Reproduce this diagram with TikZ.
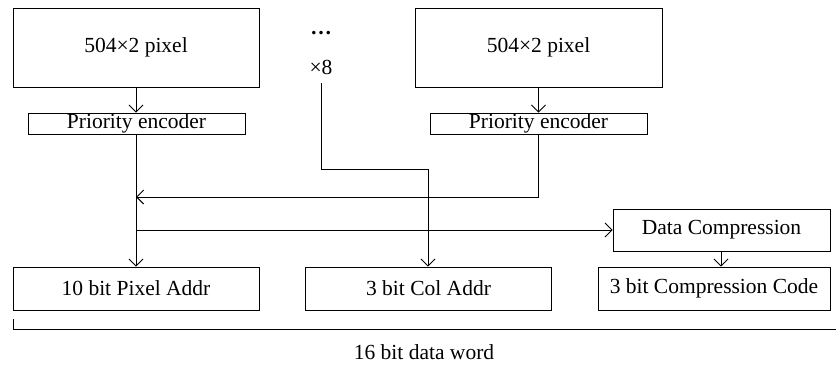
\documentclass[tikz,border=0pt]{standalone}
\usepackage{fontspec}
\setmainfont{Liberation Serif}
\usetikzlibrary{arrows.meta}
\begin{document}
\begin{tikzpicture}[x=1pt,y=-1pt,
  box/.style={draw,line width=0.9pt,inner sep=0pt,minimum width=#1,font=\fontsize{21.5}{24}\selectfont},
  lbl/.style={inner sep=0pt,font=\fontsize{21.5}{24}\selectfont},
  arr/.style={line width=0.9pt,-{Straight Barb[length=7pt,width=14pt,line width=0.9pt]}},
  ln/.style={line width=0.9pt}]
\useasboundingbox (0,0) rectangle (836,365);
\node[box=246pt,minimum height=79pt] (pixL) at (136,47.5) {504×2 pixel};
\node[box=247pt,minimum height=79pt] (pixR) at (538.5,47.5) {504×2 pixel};
\node[box=217pt,minimum height=21pt] (peL) at (136.5,123.5) {Priority encoder};
\node[box=217pt,minimum height=21pt] (peR) at (538.5,123.5) {Priority encoder};
\node[box=217pt,minimum height=42pt] (dc) at (721.5,230) {Data Compression};
\node[box=246pt,minimum height=43pt] (pa) at (136,288.5) {10 bit Pixel Addr};
\node[box=246pt,minimum height=43pt] (ca) at (428.5,288.5) {3 bit Col Addr};
\node[box=232pt,minimum height=43pt] (cc) at (714,288.5) {3 bit Compression Code};
\node[lbl,anchor=base] (dots) at (321,34) {\bfseries …};
\node[lbl,anchor=base] (x8) at (321,74) {×8};
\node[lbl] (word) at (424,352) {16 bit data word};
\coordinate (x8s) at (321,83);
\coordinate (bl) at (13,319);
\coordinate (br) at (836,329);
% connectors
\draw[arr] (pixL.south) -- (peL.north-|pixL.south);
\draw[arr] (pixR.south) -- (peR.north-|pixR.south);
\draw[arr] (peL.south-|pixL.south) -- (pa.north-|pixL.south);
\draw[arr] (peR.south-|pixR.south) |- (pixL.south|-0,197);
\draw[arr] (pixL.south|-dc.west) -- (dc.west);
\draw[arr] (x8s) |- (428,169) -- (ca.north-|428,0);
\draw[arr] (dc.south-|721,0) -- (cc.north-|721,0);
\draw[ln] (bl) -- (13,329) -- (br);
\end{tikzpicture}
\end{document}
